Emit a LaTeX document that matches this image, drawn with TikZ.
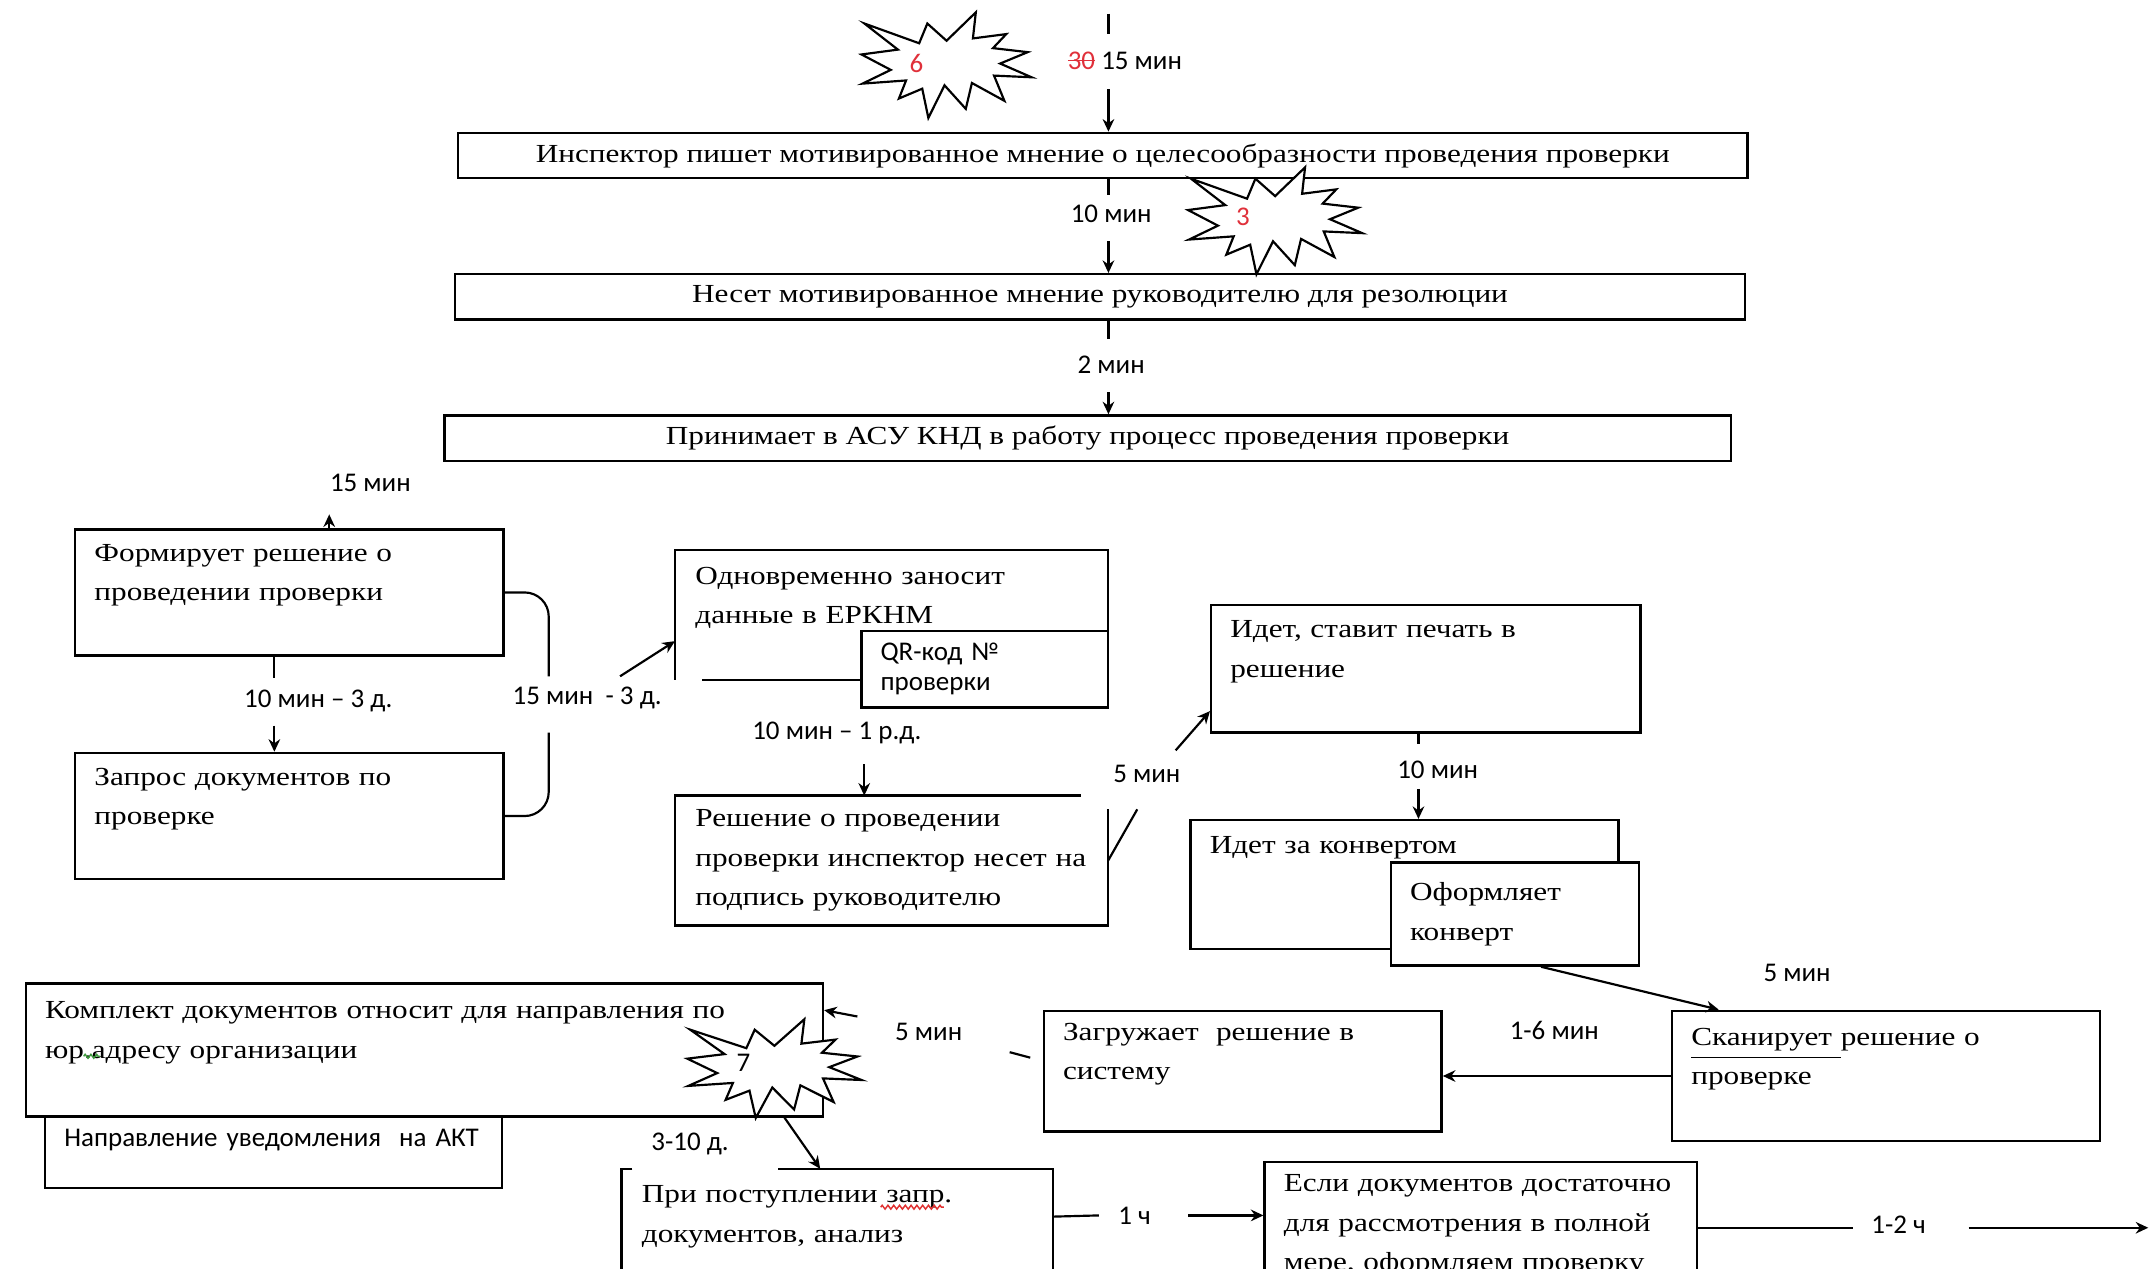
\documentclass[tikz,border=0pt]{standalone}
\usepackage{fontspec}
\setmainfont{Liberation Serif}[FakeStretch=1.2]
\newfontfamily\lblfont{Carlito}
\usetikzlibrary{arrows.meta,calc,decorations.pathmorphing}
\definecolor{sealred}{HTML}{E0303A}
\definecolor{wavegreen}{HTML}{3C9A3C}
\definecolor{wavered}{HTML}{E03030}
\newcommand{\strikeout}[1]{\setbox0\hbox{#1}\rlap{\rule[0.6ex]{\wd0}{0.35pt}}\box0}

\begin{document}
\begin{tikzpicture}[x=1cm,y=-1cm,
    blk/.style={draw,line width=0.5pt,fill=white,anchor=north west,inner xsep=0.14cm,inner ysep=0pt,align=left,font=\fontsize{5.4}{8.2}\selectfont},
    wide/.style={blk,align=center,minimum width=9.4cm,minimum height=0.33cm},
    lbl/.style={font=\lblfont\fontsize{5.6}{7}\selectfont,inner sep=1pt},
    num/.style={font=\lblfont\fontsize{5.6}{7}\selectfont,text=sealred,inner sep=0pt},
    arr/.style={-{Stealth[length=2.6pt,width=2.4pt]},line width=0.45pt},
    ln/.style={line width=0.45pt},
    wave/.style={line width=0.3pt,decorate,decoration={zigzag,amplitude=0.4pt,segment length=1.2pt}},
    seal/.pic={\draw[line width=0.45pt,fill=white] (0.5,0.269) -- (0.672,0) -- (0.655,0.247) -- (0.851,0.206) -- (0.773,0.339) -- (0.977,0.377) -- (0.815,0.485) -- (1,0.615) -- (0.779,0.599) -- (0.840,0.838) -- (0.649,0.669) -- (0.613,0.914) -- (0.488,0.691) -- (0.393,1) -- (0.357,0.723) -- (0.220,0.816) -- (0.262,0.645) -- (0.006,0.675) -- (0.172,0.545) -- (0,0.399) -- (0.214,0.353) -- (0.017,0.106) -- (0.339,0.293) -- (0.387,0.106) -- cycle;}
]
\useasboundingbox (0,0) rectangle (15.68,9.25);
\clip (0,0) rectangle (15.68,9.25);

% top part
\node[wide] (insp) at (3.33,0.96) {Инспектор пишет мотивированное мнение о целесообразности проведения проверки};
\node[wide] (nes) at (3.31,1.99) {Несет мотивированное мнение руководителю для резолюции};
\node[wide,minimum width=9.38cm] (asu) at (3.23,3.02) {Принимает в АСУ КНД в работу процесс проведения проверки};

\pic[xscale=1.24,yscale=0.77] at (6.28,0.09) {seal};
\node[num] (n6) at (6.68,0.46) {6};
\pic[xscale=1.27,yscale=0.78] at (8.66,1.22) {seal};
\node[num] (n3) at (9.06,1.58) {3};

\coordinate (in0) at (8.08,0.10);
\coordinate (in1) at (8.08,0.25);
\coordinate (in2) at (8.08,0.65);
\draw[ln] (in0) -- (in1);
\draw[arr] (in2) -- (in2 |- insp.north);
\node[lbl] (t1) at (8.20,0.44) {\textcolor{sealred}{\strikeout{30}} 15 мин};

\coordinate (a1) at (8.08,1.42);
\coordinate (a2) at (8.08,1.76);
\draw[ln] (insp.south -| a1) -- (a1);
\node[lbl] (t2) at (8.10,1.56) {10 мин};
\draw[arr] (a2) -- (a2 |- nes.north);

\coordinate (b1) at (8.08,2.47);
\coordinate (b2) at (8.08,2.86);
\draw[ln] (nes.south -| b1) -- (b1);
\node[lbl] (t3) at (8.10,2.66) {2 мин};
\draw[arr] (b2) -- (b2 |- asu.north);

% left column
\node[blk,minimum width=3.12cm,minimum height=0.92cm,text width=2.84cm] (form) at (0.54,3.85) {Формирует решение о\\проведении проверки\\\mbox{}};
\node[blk,minimum width=3.12cm,minimum height=0.92cm,text width=2.84cm] (zapr) at (0.54,5.48) {Запрос документов по\\проверке\\\mbox{}};
\node[lbl] (t4) at (2.70,3.52) {15 мин};
\coordinate (c0) at (2.40,3.75);
\draw[arr] (c0 |- form.north) -- (c0);

\coordinate (d1) at (2.00,4.94);
\coordinate (d2) at (2.00,5.29);
\draw[ln] (form.south -| d1) -- (d1);
\node[lbl] (t5) at (2.32,5.11) {10 мин – 3 д.};
\draw[arr] (d2) -- (d2 |- zapr.north);

\coordinate (e1) at (4.00,4.93);
\coordinate (e2) at (4.00,5.34);
\draw[ln,rounded corners=5pt] (form.east) -| (e1);
\draw[ln,rounded corners=5pt] (e2) |- (zapr.east);
\node[lbl] (t6) at (4.28,5.09) {15 мин\ \ - 3 д.};

% middle column
\node[blk,draw=none,minimum width=3.14cm,minimum height=0.93cm,text width=2.86cm] (erknm) at (4.92,4.01) {Одновременно заносит\\данные в ЕРКНМ\\\mbox{}};
\draw[line width=0.5pt] ([xshift=0.2cm]erknm.south west) -- (erknm.south east) -- (erknm.north east) -- (erknm.north west) -- (erknm.south west);
\node[blk,font=\lblfont\fontsize{5.6}{6.2}\selectfont,minimum width=1.80cm,minimum height=0.56cm,text width=1.52cm] (qr) at (6.27,4.59) {QR-код №\\проверки};
\coordinate (e3) at (4.52,4.93);
\draw[arr] (e3) -- ([yshift=-0.19cm]erknm.west);

\node[blk,draw=none,minimum width=3.14cm,minimum height=0.93cm,text width=2.86cm] (resh) at (4.92,5.80) {Решение о проведении\\проверки инспектор несет на\\подпись руководителю};
\draw[line width=0.5pt] ([yshift=-0.1cm]resh.north east) -- (resh.south east) -- (resh.south west) -- (resh.north west) -- ([xshift=-0.2cm]resh.north east);
\node[lbl] (t7) at (6.10,5.34) {10 мин – 1 р.д.};
\coordinate (f1) at (6.30,5.57);
\draw[arr] (f1) -- (f1 |- resh.north);

% right column
\node[blk,minimum width=3.13cm,minimum height=0.93cm,text width=2.85cm] (pech) at (8.82,4.40) {Идет, ставит печать в\\решение\\\mbox{}};
\coordinate (g1) at (8.29,5.90);
\coordinate (g2) at (8.57,5.47);
\draw[ln] (resh.east) -- (g1);
\node[lbl] (t8) at (8.36,5.64) {5 мин};
\draw[arr] (g2) -- ([yshift=-0.31cm]pech.west);

\node[blk,minimum width=3.12cm,minimum height=0.94cm,text width=2.84cm] (konv) at (8.67,5.97) {Идет за конвертом\\\mbox{}\\\mbox{}};
\node[blk,minimum width=1.81cm,minimum height=0.75cm,text width=1.53cm] (oform) at (10.13,6.28) {Оформляет\\конверт};
\coordinate (h1) at (10.34,5.42);
\coordinate (h2) at (10.34,5.75);
\draw[ln] (pech.south -| h1) -- (h1);
\node[lbl] (t9) at (10.48,5.61) {10 мин};
\draw[arr] (h2) -- (h2 |- konv.north);

\node[blk,minimum width=3.12cm,minimum height=0.95cm,text width=2.84cm] (scan) at (12.18,7.36) {\underline{Сканирует\ }решение о\\проверке\\\mbox{}};
\draw[arr] ([xshift=0.19cm]oform.south) -- ([xshift=-1.22cm]scan.north);
\node[lbl] (t10) at (13.10,7.09) {5 мин};

\node[blk,minimum width=2.90cm,minimum height=0.88cm,text width=2.62cm] (zagr) at (7.60,7.36) {Загружает\ \ решение в\\систему\\\mbox{}};
\draw[arr] (scan.west) -- (scan.west -| zagr.east);
\node[lbl] (t11) at (11.33,7.51) {1-6 мин};

% bottom part
\node[blk,font=\lblfont\fontsize{5.6}{7}\selectfont,minimum width=3.33cm,minimum height=0.70cm,text width=3.05cm] (akt) at (0.32,7.95) {Направление уведомления\ \ на АКТ};
\node[blk,minimum width=5.81cm,minimum height=0.97cm,text width=5.53cm] (kompl) at (0.18,7.16) {Комплект документов относит для направления по\\юр.адресу организации\\\mbox{}};
\coordinate (sq1) at (0.61,7.70);
\coordinate (sq2) at (0.73,7.70);
\draw[wave,wavegreen] (sq1) -- (sq2);

\coordinate (m1) at (7.36,7.67);
\coordinate (m2) at (7.51,7.71);
\coordinate (m3) at (6.25,7.41);
\draw[ln] (m1) -- (m2);
\node[lbl] (t12) at (6.77,7.52) {5 мин};
\draw[arr] (m3) -- ([yshift=0.29cm]kompl.east);

\pic[xscale=1.27,yscale=0.72] at (5.01,7.43) {seal};
\node[num,text=black] (n7) at (5.42,7.75) {7};

\node[blk,draw=none,minimum width=3.13cm,minimum height=0.93cm,text width=2.85cm] (post) at (4.53,8.52) {При поступлении запр.\\документов, анализ\\\mbox{}};
\draw[line width=0.5pt] ([xshift=0.08cm]post.north west) -- (post.north west) -- (post.south west) -- (post.south east) -- (post.north east) -- ([xshift=1.14cm]post.north west);
\coordinate (sq3) at (6.42,8.80);
\coordinate (sq4) at (6.88,8.80);
\draw[wave,wavered] (sq3) -- (sq4);
\draw[arr] ([xshift=2.625cm]kompl.south) -- ([xshift=-0.125cm]post.north);
\node[lbl] (t13) at (5.03,8.34) {3-10 д.};

\node[blk,minimum width=3.15cm,minimum height=0.93cm,text width=2.87cm] (esli) at (9.21,8.46) {Если документов достаточно\\для рассмотрения в полной\\мере, оформляем проверку};
\coordinate (q1) at (8.01,8.86);
\coordinate (q2) at (8.66,8.86);
\draw[ln] ([yshift=0.125cm]post.east) -- (q1);
\node[lbl] (t14) at (8.27,8.86) {1 ч};
\draw[arr] (q2) -- (q2 -| esli.west);

\coordinate (r1) at (13.51,8.95);
\coordinate (r2) at (14.35,8.95);
\coordinate (r3) at (15.66,8.95);
\draw[ln] (esli.east |- r1) -- (r1);
\node[lbl] (t15) at (13.84,8.93) {1-2 ч};
\draw[arr] (r2) -- (r3);
\end{tikzpicture}
\end{document}
